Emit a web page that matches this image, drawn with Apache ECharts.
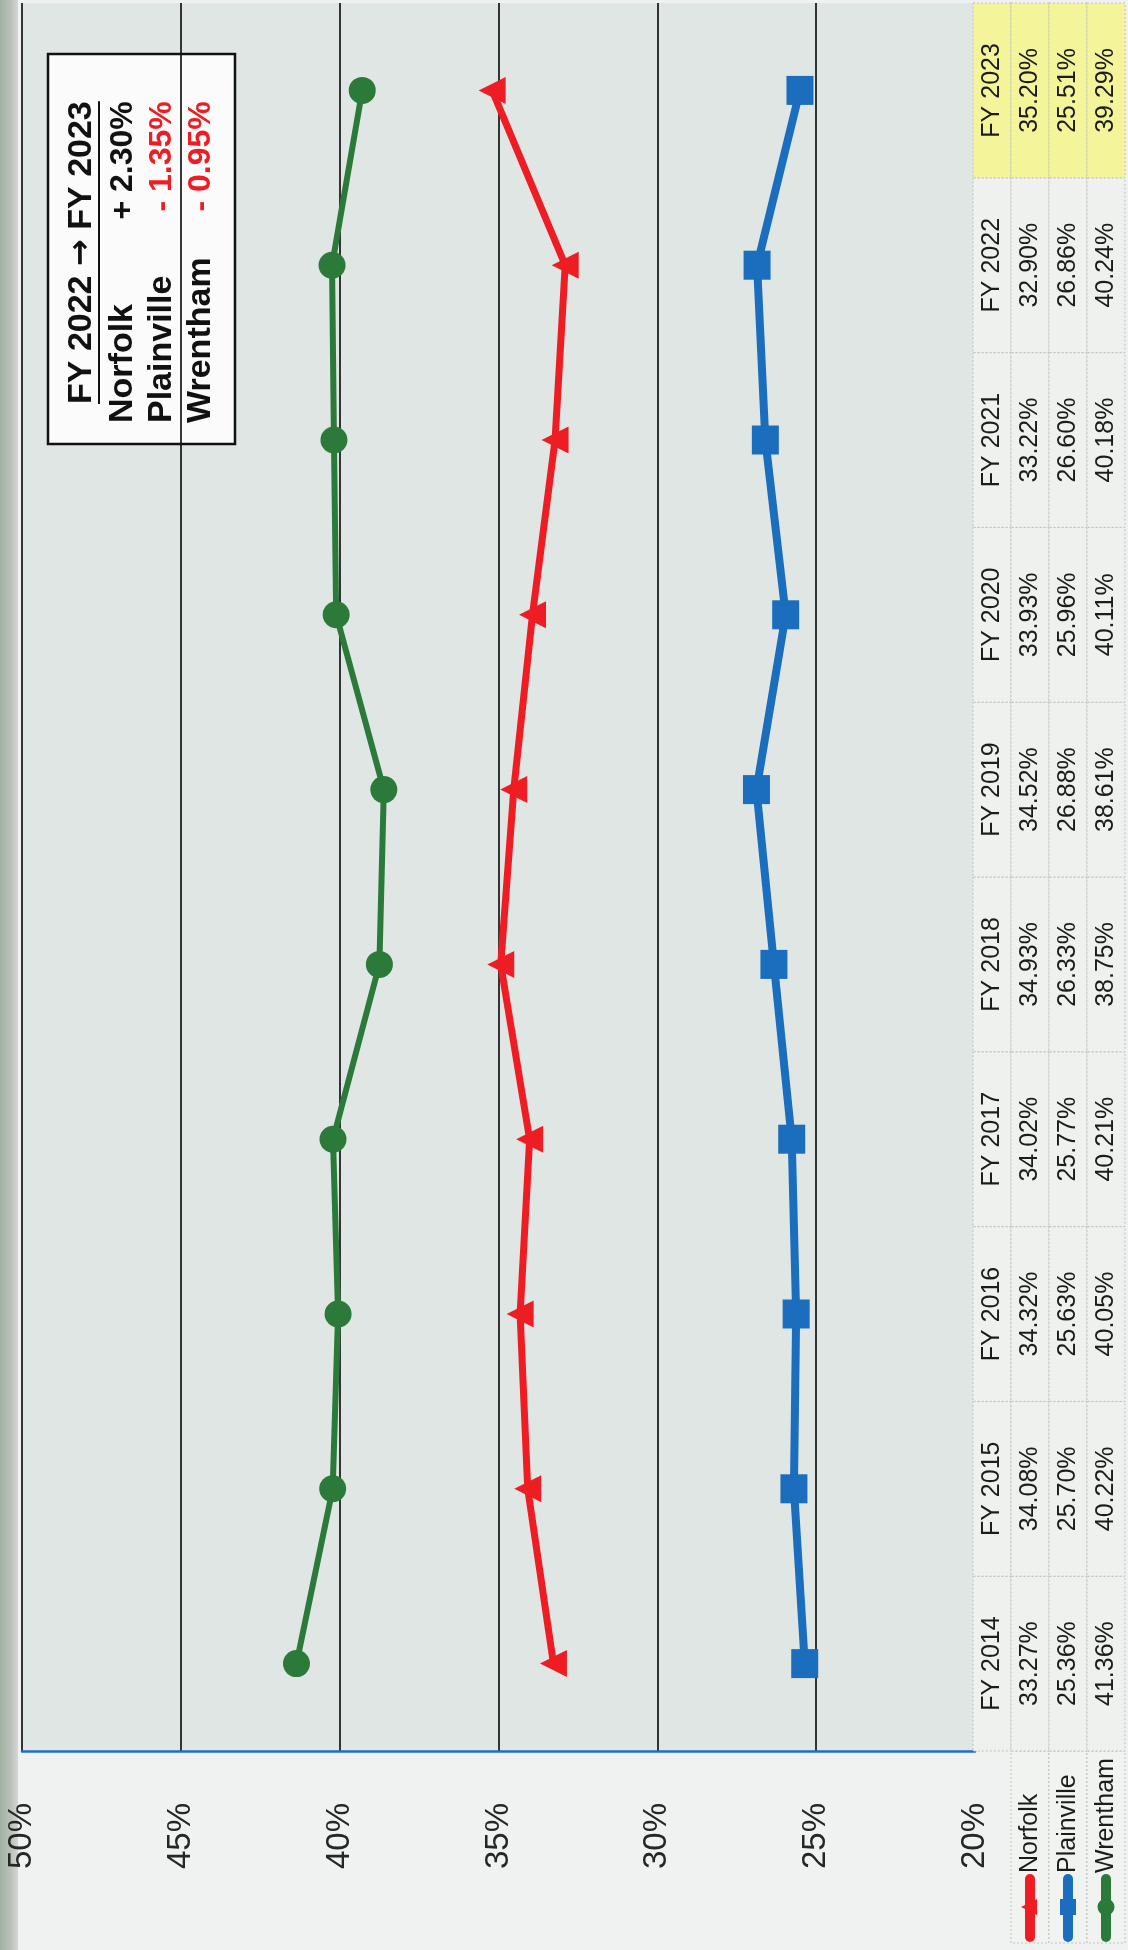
<!DOCTYPE html>
<html>
<head>
<meta charset="utf-8">
<script src="https://cdn.jsdelivr.net/npm/echarts@6/dist/echarts.min.js"></script>
<style>
html,body{margin:0;padding:0;background:#eef1ef;}
#chart{width:1128px;height:1950px;}
</style>
</head>
<body>
<div id="chart"></div>
<script>
// ---------- data ----------
const categories = ['FY 2014','FY 2015','FY 2016','FY 2017','FY 2018','FY 2019','FY 2020','FY 2021','FY 2022','FY 2023'];
const norfolk    = [33.27, 34.08, 34.32, 34.02, 34.93, 34.52, 33.93, 33.22, 32.90, 35.20];
const plainville = [25.36, 25.70, 25.63, 25.77, 26.33, 26.88, 25.96, 26.60, 26.86, 25.51];
const wrentham   = [41.36, 40.22, 40.05, 40.21, 38.75, 38.61, 40.11, 40.18, 40.24, 39.29];
const seriesNames = ['Norfolk', 'Plainville', 'Wrentham'];
const valueMin = 20, valueMax = 50, valueStep = 5;
const tableColumns = ['year', 'Norfolk', 'Plainville', 'Wrentham'];
const highlightYear = 'FY 2023';
const changeFrom = 'FY 2022', changeTo = 'FY 2023';
const changeValues = ['+ 2.30%', '- 1.35%', '- 0.95%'];
const changeColors = ['#111111', '#ee1d24', '#ee1d24'];

// ---------- styles ----------
const colors = ['#ee1d24', '#1a6ebd', '#2b7a3a'];
const FONT = '"Liberation Sans", Arial, Helvetica, sans-serif';
const R90 = Math.PI / 2;

const seriesValues = [norfolk, plainville, wrentham];

const tableData = [];
categories.forEach((cat, r) => {
  tableData.push({ value: [0, r], text: cat, hl: cat === highlightYear });
  seriesValues.forEach((arr, k) => {
    tableData.push({ value: [k + 1, r], text: arr[r].toFixed(2) + '%', hl: cat === highlightYear });
  });
});
const legendData = [0, 1, 2, 3].map(c => ({ value: [c, 0] }));

function measure(text, font) {
  const ctx = document.createElement('canvas').getContext('2d');
  ctx.font = font;
  return ctx.measureText(text).width;
}

const chart = echarts.init(document.getElementById('chart'), null, { renderer: 'canvas', width: 1128, height: 1950 });

const headFont = 'bold 34px ' + FONT;
const nameFont = 'bold 34px ' + FONT;
const valFont = 'bold 32px ' + FONT;
const arrowFont = 'bold 32px "DejaVu Sans", ' + FONT;
const headerW = measure(changeFrom + ' ', headFont) + measure('\u2192', arrowFont) + measure(' ' + changeTo, headFont);
const boxHeaderX = 82, boxStartY = 404;
const rowX = [123, 162, 201];

const boxChildren = [
  { type: 'rect', shape: { x: 48, y: 54, width: 187, height: 390 },
    style: { fill: '#fbfbfb', stroke: '#111', lineWidth: 2.5 } },
  { type: 'text', x: boxHeaderX, y: boxStartY, rotation: R90,
    style: { text: '{a|' + changeFrom + ' }{b|\u2192}{a| ' + changeTo + '}', align: 'left', verticalAlign: 'middle',
      rich: { a: { font: headFont, fill: '#111' }, b: { font: arrowFont, fill: '#111' } } } },
  { type: 'line', shape: { x1: 99, y1: boxStartY, x2: 99, y2: boxStartY - headerW },
    style: { stroke: '#111', lineWidth: 2 } }
];
seriesNames.forEach((n, i) => {
  boxChildren.push({ type: 'text', x: rowX[i], y: 423, rotation: R90,
    style: { text: n, font: nameFont, fill: '#111', align: 'left', verticalAlign: 'middle' } });
  boxChildren.push({ type: 'text', x: rowX[i], y: boxStartY - headerW, rotation: R90,
    style: { text: changeValues[i], font: valFont, fill: changeColors[i], align: 'right', verticalAlign: 'middle' } });
});

const splitColors = [];
for (let v = valueMin; v <= valueMax; v += valueStep) splitColors.push(v === valueMin ? 'rgba(0,0,0,0)' : '#151515');

const symbols = ['triangle', 'rect', 'circle'];
const symbolSizes = [[27, 27], [27, 29], 27];
const symbolRotates = [90, 0, 0];
const lineWidths = [7, 8, 6];

const option = {
  backgroundColor: '#eff2f0',
  animation: false,
  grid: [
    { left: 22, right: 153, top: 3, bottom: 199, show: true, backgroundColor: '#e0e6e4', borderWidth: 0 },
    { left: 973, right: 3, top: 3, bottom: 199, show: false },
    { left: 973, right: 3, top: 1751, bottom: 7, show: false }
  ],
  xAxis: [
    { type: 'value', gridIndex: 0, min: valueMin, max: valueMax, interval: valueStep, inverse: true, z: 3,
      axisLine: { show: true, lineStyle: { color: '#1a6ed0', width: 2.5 } },
      axisTick: { show: false },
      splitLine: { show: true, lineStyle: { color: splitColors, width: 1.7 } },
      axisLabel: { formatter: '{value}%', rotate: 90, fontSize: 33, fontFamily: FONT, color: '#262626', margin: 52 } },
    { type: 'category', gridIndex: 1, data: tableColumns, show: false },
    { type: 'category', gridIndex: 2, data: tableColumns, show: false }
  ],
  yAxis: [
    { type: 'category', gridIndex: 0, data: categories, boundaryGap: true,
      axisLine: { show: false }, axisTick: { show: false }, axisLabel: { show: false }, splitLine: { show: false } },
    { type: 'category', gridIndex: 1, data: categories, show: false },
    { type: 'category', gridIndex: 2, data: ['legend'], show: false }
  ],
  graphic: [
    { type: 'rect', z: -1, shape: { x: 0, y: 0, width: 18, height: 1950 },
      style: { fill: new echarts.graphic.LinearGradient(0, 0, 1, 0, [
        { offset: 0, color: '#a3b1a3' }, { offset: 0.6, color: '#b9c2ba' }, { offset: 1, color: '#d3d8d4' }]) } },
    { type: 'group', z: 100, children: boxChildren }
  ],
  series: [
    ...seriesNames.map((n, i) => ({
      name: n, type: 'line', xAxisIndex: 0, yAxisIndex: 0, data: seriesValues[i],
      symbol: symbols[i], symbolSize: symbolSizes[i], symbolRotate: symbolRotates[i],
      showAllSymbol: true, z: 10 + i,
      lineStyle: { color: colors[i], width: lineWidths[i] },
      itemStyle: { color: colors[i] }
    })),
    {
      type: 'custom', xAxisIndex: 1, yAxisIndex: 1, data: tableData, z: 5,
      renderItem: function (params, api) {
        const c = api.value(0), r = api.value(1);
        const p = api.coord([c, r]);
        const s = api.size([1, 1]);
        const item = tableData[params.dataIndex];
        return { type: 'group', children: [
          { type: 'rect', shape: { x: p[0] - s[0] / 2, y: p[1] - s[1] / 2, width: s[0], height: s[1] },
            style: { fill: item.hl ? '#f4f49a' : '#eef1ee', stroke: '#bcc3c1', lineWidth: 1, lineDash: [2, 2] } },
          { type: 'text', x: p[0], y: p[1], rotation: R90,
            style: { text: item.text, font: '25px ' + FONT, fill: '#1c1c1c', align: 'center', verticalAlign: 'middle' } }
        ] };
      }
    },
    {
      type: 'custom', xAxisIndex: 2, yAxisIndex: 2, data: legendData, z: 1,
      renderItem: function (params, api) {
        const c = api.value(0);
        const p = api.coord([c, 0]);
        const s = api.size([1, 1]);
        const left = p[0] - s[0] / 2, top = p[1] - s[1] / 2, bottom = p[1] + s[1] / 2;
        if (c === 0) return { type: 'group', children: [] };
        const k = c - 1, col = colors[k], x = p[0];
        const children = [
          { type: 'rect', shape: { x: left, y: top, width: s[0], height: s[1] },
            style: { fill: '#f1f3f1', stroke: '#bcc3c1', lineWidth: 1, lineDash: [2, 2] } },
          { type: 'line', shape: { x1: x, y1: bottom - 64, x2: x, y2: bottom - 6 },
            style: { stroke: col, lineWidth: 10, lineCap: 'round' } }
        ];
        const my = bottom - 36;
        if (k === 0) {
          children.push({ type: 'polygon', shape: { points: [[x - 9, my], [x + 7, my - 8], [x + 7, my + 8]] }, style: { fill: col } });
        } else if (k === 1) {
          children.push({ type: 'rect', shape: { x: x - 8, y: my - 8, width: 16, height: 16 }, style: { fill: col } });
        } else {
          children.push({ type: 'circle', shape: { cx: x, cy: my, r: 8.5 }, style: { fill: col } });
        }
        children.push({ type: 'text', x: x, y: bottom - 70, rotation: R90,
          style: { text: seriesNames[k], font: '25px ' + FONT, fill: '#1c1c1c', align: 'left', verticalAlign: 'middle' } });
        return { type: 'group', children: children };
      }
    }
  ]
};
chart.setOption(option);
</script>
</body>
</html>
